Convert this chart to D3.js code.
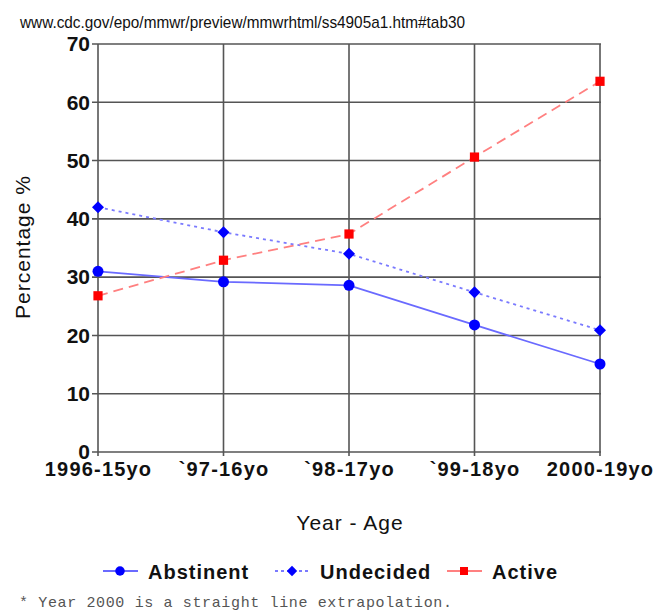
<!DOCTYPE html>
<html><head><meta charset="utf-8">
<script src="https://cdn.jsdelivr.net/npm/d3@7"></script>
<style>body{margin:0;background:#fff;}svg{display:block;}</style>
</head><body>
<script>
const categories = ["1996-15yo", "`97-16yo", "`98-17yo", "`99-18yo", "2000-19yo"];
const abstinent = [31.0, 29.2, 28.6, 21.8, 15.1];
const undecided = [42.0, 37.7, 34.0, 27.4, 20.9];
const active = [26.8, 32.9, 37.4, 50.6, 63.6];
const yTicks = [0, 10, 20, 30, 40, 50, 60, 70];
const seriesNames = ["Abstinent", "Undecided", "Active"];

const W = 668, H = 612;
const FONT = "Liberation Sans, Arial, sans-serif";
const svg = d3.select("body").append("svg").attr("width", W).attr("height", H);
const L = 98, R = 600, T = 44, B = 452;
const x = d3.scalePoint().domain(categories).range([L, R]);
const y = d3.scaleLinear().domain([0, 70]).range([B, T]);

// title URL
svg.append("text").attr("x", 20).attr("y", 28).attr("font-family", FONT)
  .attr("font-size", 17).attr("fill", "#111").attr("textLength", 445).attr("lengthAdjust", "spacingAndGlyphs")
  .text("www.cdc.gov/epo/mmwr/preview/mmwrhtml/ss4905a1.htm#tab30");

// grid
const grid = svg.append("g").attr("stroke", "#555").attr("stroke-width", 1.6);
yTicks.forEach(t => {
  grid.append("line").attr("x1", L - 6).attr("x2", R + 1).attr("y1", y(t)).attr("y2", y(t));
});
categories.forEach(c => {
  grid.append("line").attr("x1", x(c)).attr("x2", x(c)).attr("y1", T).attr("y2", B + 4);
});

// y axis labels
const yAxis = d3.axisLeft(y).tickValues(yTicks).tickSize(0).tickPadding(8);
const ya = svg.append("g").attr("transform", `translate(${L},0)`).call(yAxis);
ya.select(".domain").remove();
ya.selectAll("text").attr("font-family", FONT).attr("font-size", 21)
  .attr("font-weight", "bold").attr("fill", "#111");

// x axis labels
const xAxis = d3.axisBottom(x).tickSize(0).tickPadding(10);
const xa = svg.append("g").attr("transform", `translate(0,${B})`).call(xAxis);
xa.select(".domain").remove();
xa.selectAll("text").attr("font-family", FONT).attr("font-size", 20)
  .attr("font-weight", "bold").attr("fill", "#111").attr("letter-spacing", 1.2);

// axis titles
svg.append("text").attr("x", 350).attr("y", 530).attr("text-anchor", "middle")
  .attr("font-family", FONT).attr("font-size", 21).attr("letter-spacing", 1).attr("fill", "#111").text("Year - Age");
svg.append("text").attr("transform", "translate(30,247) rotate(-90)").attr("text-anchor", "middle")
  .attr("font-family", FONT).attr("font-size", 21).attr("letter-spacing", 1).attr("fill", "#111").text("Percentage  %");

const series = [
  {name: seriesNames[0], data: abstinent, color: "#6a6aff", dash: null, marker: "circle", mcolor: "#0000ff"},
  {name: seriesNames[1], data: undecided, color: "#7a7aff", dash: "3,4", marker: "diamond", mcolor: "#0000ff"},
  {name: seriesNames[2], data: active, color: "#ff8080", dash: "10,6", marker: "square", mcolor: "#ff0000"}
];

const line = d3.line().x((d, i) => x(categories[i])).y(d => y(d));
const sym = {circle: d3.symbolCircle, diamond: d3.symbolSquare, square: d3.symbolSquare};
const symSize = {circle: 95, diamond: 72, square: 85};
const rot = {circle: 0, diamond: 45, square: 0};

series.forEach(s => {
  svg.append("path").datum(s.data).attr("d", line).attr("fill", "none")
    .attr("stroke", s.color).attr("stroke-width", 1.8).attr("stroke-dasharray", s.dash);
  svg.selectAll(null).data(s.data).enter().append("path")
    .attr("d", d3.symbol().type(sym[s.marker]).size(symSize[s.marker]))
    .attr("transform", (d, i) => `translate(${x(categories[i])},${y(d)}) rotate(${rot[s.marker]})`)
    .attr("fill", s.mcolor);
});

// legend
const legX = [103, 275, 447];
const legTextX = [148, 320, 492];
series.forEach((s, i) => {
  const g = svg.append("g");
  g.append("line").attr("x1", legX[i]).attr("x2", legX[i] + 35).attr("y1", 571).attr("y2", 571)
    .attr("stroke", s.color).attr("stroke-width", 1.8).attr("stroke-dasharray", s.marker === "diamond" ? "3,3" : null);
  g.append("path").attr("d", d3.symbol().type(sym[s.marker]).size(symSize[s.marker] * 0.75))
    .attr("transform", `translate(${legX[i] + 17},571) rotate(${rot[s.marker]})`).attr("fill", s.mcolor);
  g.append("text").attr("x", legTextX[i]).attr("y", 579).attr("font-family", FONT)
    .attr("font-size", 20).attr("font-weight", "bold").attr("letter-spacing", 1).attr("fill", "#111").text(s.name);
});

// footnote
svg.append("text").attr("x", 19).attr("y", 607).attr("font-family", "Liberation Mono, Courier New, monospace")
  .attr("font-size", 15).attr("fill", "#555").attr("textLength", 433).attr("lengthAdjust", "spacing")
  .text("* Year 2000 is a straight line extrapolation.");
</script>
</body></html>
